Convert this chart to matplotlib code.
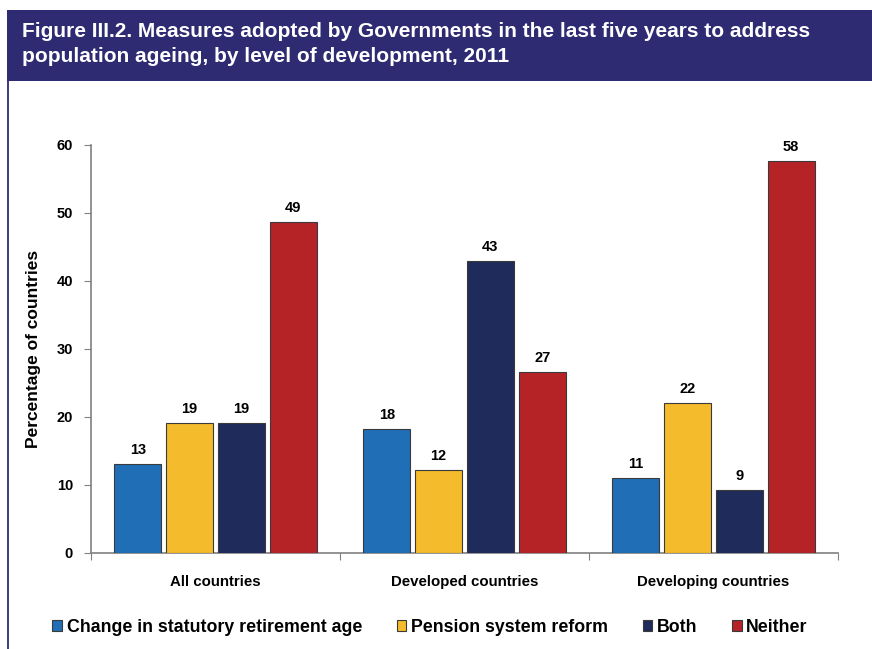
import matplotlib
matplotlib.use("Agg")
import matplotlib.pyplot as plt
import numpy as np
from matplotlib.patches import Rectangle
from matplotlib.lines import Line2D

plt.rcParams['font.family'] = ['Liberation Sans', 'DejaVu Sans']
plt.rcParams['font.weight'] = 'bold'

categories = ['All countries', 'Developed countries', 'Developing countries']
series = ['Change in statutory retirement age', 'Pension system reform', 'Both', 'Neither']
retirement_age = [13.1, 18.3, 11.0]
pension_reform = [19.1, 12.2, 22.1]
both = [19.1, 42.9, 9.3]
neither = [48.7, 26.6, 57.7]
labels = [[13, 18, 11], [19, 12, 22], [19, 43, 9], [49, 27, 58]]
colors = ['#1F6EB6', '#F4BC2C', '#1F2B5B', '#B52327']

fig = plt.figure(figsize=(8.72, 6.49), dpi=100)

# title banner
banner_col = '#2E2B73'
fig.patches.append(Rectangle((7/872, 1-81/649), 1.0, 71/649, transform=fig.transFigure,
                             facecolor=banner_col, edgecolor='none'))
fig.lines.append(Line2D([7.5/872, 7.5/872], [0, 1-81/649], transform=fig.transFigure,
                        color=banner_col, lw=1.3))
fig.text(22/872, 1-44/649, 'Figure III.2. Measures adopted by Governments in the last five years to address\n'
         'population ageing, by level of development, 2011',
         color='white', fontsize=15, fontweight='bold', va='center', ha='left',
         linespacing=1.38)

ax = fig.add_axes([91/872, 1-553/649, (838-91)/872, (553-145)/649])

x = np.arange(len(categories))
width = 0.19
pitch = 0.208
all_vals = [retirement_age, pension_reform, both, neither]
for i, vals in enumerate(all_vals):
    pos = x + (i - 1.5) * pitch
    bars = ax.bar(pos, vals, width, color=colors[i], edgecolor='#3a3a3a', linewidth=0.8,
                  label=series[i], zorder=3)
    for b, lab in zip(bars, labels[i]):
        ax.text(b.get_x() + b.get_width()/2, b.get_height() + 1.0, str(lab),
                ha='center', va='bottom', fontsize=10.5, fontweight='bold')

ax.set_xlim(-0.5, 2.5)
ax.set_ylim(0, 60)
ax.set_yticks(range(0, 61, 10))
ax.set_xticks([-0.5, 0.5, 1.5, 2.5])
ax.set_xticklabels([])
ax.set_xticks(x, minor=True)
ax.set_xticklabels(categories, minor=True)
ax.tick_params(axis='x', which='minor', length=0, pad=16, labelsize=10.8)
ax.tick_params(axis='x', which='major', length=5, color='#808080', direction='out')
ax.tick_params(axis='y', length=5, color='#808080', labelsize=10.5, pad=8)
for lab in ax.get_yticklabels() + ax.get_xticklabels(minor=True):
    lab.set_fontweight('bold')
for s in ['top', 'right']:
    ax.spines[s].set_visible(False)
for s in ['left', 'bottom']:
    ax.spines[s].set_color('#808080')
    ax.spines[s].set_linewidth(1.2)
ax.set_ylabel('Percentage of countries', fontsize=12.5, fontweight='bold', labelpad=11)

handles, hl = ax.get_legend_handles_labels()
leg = fig.legend(handles, hl, loc='center', bbox_to_anchor=(430/872, 1-627/649), ncol=4,
                 frameon=False, fontsize=12.8, handlelength=0.55, handleheight=0.55,
                 handletextpad=0.25, columnspacing=1.95)
for t in leg.get_texts():
    t.set_fontweight('bold')

fig.savefig('out.png', dpi=100)
